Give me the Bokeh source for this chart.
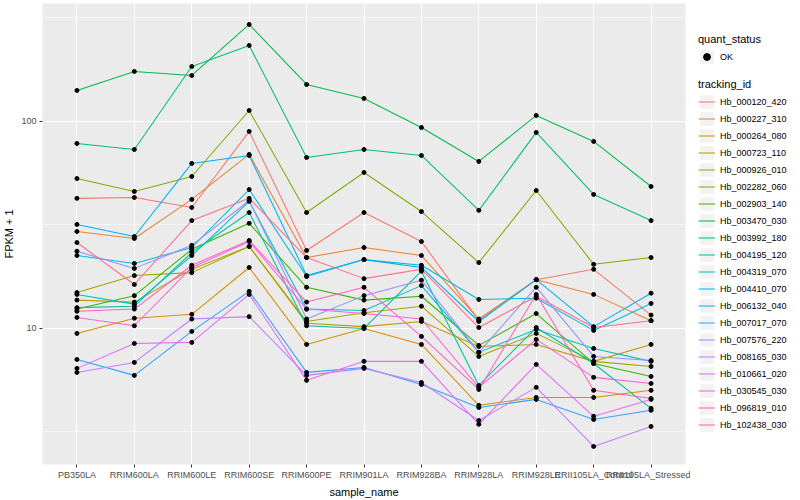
from bokeh.plotting import figure
from bokeh.layouts import row
from bokeh.models import (FactorRange, Range1d, FixedTicker, Legend, LegendItem,
                          BasicTickFormatter)
from bokeh.embed import file_html
from bokeh.resources import INLINE

samples = ["PB350LA", "RRIM600LA", "RRIM600LE", "RRIM600SE", "RRIM600PE",
           "RRIM901LA", "RRIM928BA", "RRIM928LA", "RRIM928LE",
           "RRII105LA_Control", "RRII105LA_Stressed"]

tracking_ids = ["Hb_000120_420", "Hb_000227_310", "Hb_000264_080", "Hb_000723_110",
                "Hb_000926_010", "Hb_002282_060", "Hb_002903_140", "Hb_003470_030",
                "Hb_003992_180", "Hb_004195_120", "Hb_004319_070", "Hb_004410_070",
                "Hb_006132_040", "Hb_007017_070", "Hb_007576_220", "Hb_008165_030",
                "Hb_010661_020", "Hb_030545_030", "Hb_096819_010", "Hb_102438_030"]

colors = ["#F8766D", "#EA8331", "#D89000", "#C09B00", "#A3A500", "#7CAE00",
          "#39B600", "#00BB4E", "#00BF7D", "#00C1A3", "#00BFC4", "#00BAE0",
          "#00B0F6", "#35A2FF", "#9590FF", "#C77CFF", "#E76BF3", "#FA62DB",
          "#FF62BC", "#FF6C91"]

# FPKM + 1 per sample (same order as samples)
hb_000120_420 = [42.5, 42.9, 38.4, 89.5, 23.8, 36.3, 26.3, 10.9, 17.2, 19.3, 11.6]
hb_000227_310 = [29.4, 27.2, 42.0, 69.3, 22.0, 24.6, 22.5, 11.1, 17.2, 14.6, 10.9]
hb_000264_080 = [9.46, 11.2, 11.7, 19.7, 8.37, 10.0, 8.37, 4.25, 4.64, 4.64, 5.02]
hb_000723_110 = [13.7, 13.4, 19.3, 24.9, 10.6, 10.2, 10.8, 8.18, 8.37, 6.93, 8.37]
hb_000926_010 = [14.9, 18.0, 18.6, 24.9, 10.8, 11.9, 12.8, 7.32, 9.46, 6.93, 6.55]
hb_002282_060 = [53.0, 45.9, 54.2, 113.0, 36.3, 56.7, 36.7, 20.8, 46.4, 20.4, 22.0]
hb_002903_140 = [12.4, 14.4, 24.1, 32.2, 15.8, 13.7, 14.3, 8.28, 11.8, 6.77, 5.86]
hb_003470_030 = [141.2, 174.4, 166.8, 294.2, 150.9, 129.2, 93.5, 64.1, 106.9, 80.1, 48.5]
hb_003992_180 = [78.3, 73.2, 184.4, 232.9, 67.0, 73.2, 68.5, 37.2, 88.5, 44.4, 33.2]
hb_004195_120 = [12.6, 12.8, 23.3, 36.3, 10.3, 10.0, 18.9, 5.30, 10.1, 6.77, 4.11]
hb_004319_070 = [14.6, 13.1, 22.5, 41.1, 12.4, 12.2, 16.1, 7.66, 9.89, 8.00, 6.93]
hb_004410_070 = [22.5, 20.6, 24.6, 46.9, 17.8, 21.5, 20.2, 13.8, 14.0, 9.78, 13.2]
hb_006132_040 = [31.8, 27.8, 62.7, 68.5, 18.0, 21.5, 19.7, 10.8, 17.2, 10.2, 14.8]
hb_007017_070 = [7.08, 5.93, 9.67, 15.1, 6.13, 6.48, 5.36, 4.15, 4.54, 3.63, 4.02]
hb_007576_220 = [23.6, 19.5, 25.2, 41.5, 11.1, 14.4, 17.1, 7.66, 15.8, 7.32, 7.00]
hb_008165_030 = [6.13, 6.85, 11.1, 11.4, 5.93, 6.41, 5.48, 3.59, 5.19, 2.69, 3.36]
hb_010661_020 = [6.41, 8.46, 8.56, 14.6, 5.61, 6.93, 6.93, 3.44, 6.70, 3.76, 4.54]
hb_030545_030 = [11.3, 10.3, 19.7, 26.3, 12.4, 11.8, 11.1, 5.19, 8.85, 5.80, 5.42]
hb_096819_010 = [12.1, 12.4, 20.2, 26.6, 13.4, 15.8, 9.15, 5.07, 14.6, 5.02, 4.59]
hb_102438_030 = [26.0, 16.3, 33.2, 42.5, 22.0, 17.4, 19.3, 10.1, 14.3, 10.1, 10.9]

series_values = [hb_000120_420, hb_000227_310, hb_000264_080, hb_000723_110,
                 hb_000926_010, hb_002282_060, hb_002903_140, hb_003470_030,
                 hb_003992_180, hb_004195_120, hb_004319_070, hb_004410_070,
                 hb_006132_040, hb_007017_070, hb_007576_220, hb_008165_030,
                 hb_010661_020, hb_030545_030, hb_096819_010, hb_102438_030]

y_major = [10, 100]
y_minor = [3.1623, 31.623, 316.23]

FONT = "Liberation Sans"
FRAME_W, FRAME_H = 643, 461
TOP = 3

p = figure(x_range=FactorRange(factors=samples, range_padding=0.2 / 11,
                               range_padding_units="percent"),
           y_axis_type="log", y_range=Range1d(2.2, 371.5),
           frame_width=FRAME_W, frame_height=FRAME_H,
           output_backend="svg", toolbar_location=None,
           min_border_top=TOP, min_border_left=0, min_border_bottom=0,
           min_border_right=5)

p.background_fill_color = "#EBEBEB"
p.border_fill_color = "white"
p.outline_line_color = None

ticker = FixedTicker(ticks=y_major, minor_ticks=y_minor)
p.yaxis.ticker = ticker
p.ygrid.ticker = ticker
p.yaxis.formatter = BasicTickFormatter()
p.ygrid.grid_line_color = "white"
p.ygrid.grid_line_width = 1.1
p.ygrid.minor_grid_line_color = "white"
p.ygrid.minor_grid_line_width = 0.55
p.xgrid.grid_line_color = "white"
p.xgrid.grid_line_width = 1.1

for ax in (p.xaxis, p.yaxis):
    ax.axis_line_color = None
    ax.major_tick_line_color = "#333333"
    ax.major_tick_out = 3
    ax.major_tick_in = 0
    ax.minor_tick_line_color = None
    ax.major_label_text_font = FONT
    ax.major_label_text_font_size = "9px"
    ax.major_label_text_color = "#4D4D4D"
    ax.major_label_standoff = 2
    ax.axis_label_text_font = FONT
    ax.axis_label_text_font_size = "11px"
    ax.axis_label_text_font_style = "normal"
    ax.axis_label_text_color = "black"
    ax.axis_label_standoff = 3

p.xaxis.axis_label = "sample_name"
p.yaxis.axis_label = "FPKM + 1"

for vals, c in zip(series_values, colors):
    p.line(x=samples, y=vals, line_color=c, line_width=1.05)

px = []
py = []
for vals in series_values:
    px.extend(samples)
    py.extend(vals)
p.scatter(x=px, y=py, marker="circle", size=4.0,
          fill_color="black", line_color="black")

# ---- legend panel (separate figure holding only the two legends) ----
LEG_W = 100
lf = figure(frame_width=LEG_W, frame_height=FRAME_H,
            x_range=Range1d(0, 1), y_range=Range1d(0, 1),
            x_axis_type=None, y_axis_type=None,
            output_backend="svg", toolbar_location=None,
            min_border_top=TOP, min_border_left=0, min_border_bottom=0,
            min_border_right=0)
lf.outline_line_color = None
lf.background_fill_color = "white"
lf.border_fill_color = "white"
lf.xgrid.visible = False
lf.ygrid.visible = False

# key renderers sit outside the visible range; they only feed the legend glyphs
off = [5, 6]
key_bg = lf.quad(left=[5], right=[6], top=[6], bottom=[5],
                 fill_color="#F2F2F2", line_color=None)
key_pt = lf.scatter(x=[5], y=[5], marker="circle", size=4.0,
                    fill_color="black", line_color="black")
key_lines = [lf.line(x=off, y=off, line_color=c, line_width=1.05) for c in colors]

def make_legend(items, title, loc, gw=17, gh=17):
    return Legend(items=items, title=title, location=loc,
                  glyph_width=gw, glyph_height=gh, label_height=17,
                  spacing=0, padding=0, margin=0, label_standoff=5,
                  title_standoff=3,
                  label_text_font=FONT, label_text_font_size="9px",
                  label_text_color="black",
                  title_text_font=FONT, title_text_font_size="11px",
                  title_text_font_style="normal", title_text_color="black",
                  background_fill_alpha=0, border_line_color=None)

q_items = [LegendItem(label="OK", renderers=[key_bg, key_pt])]
t_items = [LegendItem(label=tid, renderers=[key_bg, r])
           for tid, r in zip(tracking_ids, key_lines)]

lf.add_layout(make_legend(q_items, "quant_status", (8, 399)))
lf.add_layout(make_legend(t_items, "tracking_id", (8, 31)))

layout = row(p, lf)
open("out.html", "w").write(file_html(layout, INLINE))
